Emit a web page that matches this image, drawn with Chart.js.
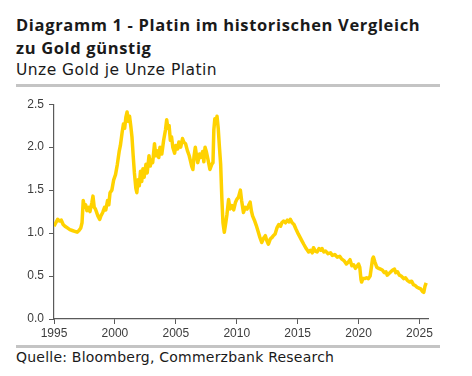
<!DOCTYPE html>
<html>
<head>
<meta charset="utf-8">
<script src="https://cdn.jsdelivr.net/npm/chart.js@4"></script>
<style>
  html, body { margin: 0; padding: 0; background: #fff; }
  body { width: 472px; height: 376px; position: relative; overflow: hidden; font-family: "Open Sans", "DejaVu Sans", sans-serif; color: #1a1a1a; }
  .title { position: absolute; left: 16px; top: 13px; font-size: 16.5px; font-weight: 700; line-height: 23px; letter-spacing: 0.65px; }
  .subtitle { position: absolute; left: 16px; top: 61px; font-family: "DejaVu Sans", sans-serif; font-size: 15.5px; line-height: 18px; letter-spacing: 0.45px; }
  .rule { position: absolute; left: 16px; width: 424px; height: 3px; background: #c4c4c4; }
  .source { position: absolute; left: 16px; top: 349px; font-family: "DejaVu Sans", sans-serif; font-size: 14px; line-height: 17px; letter-spacing: 0.22px; }
  .wrap { position: absolute; left: 0; top: 92px; width: 472px; height: 250px; }
</style>
</head>
<body>
<div class="title">Diagramm 1 - Platin im historischen Vergleich<br>zu Gold günstig</div>
<div class="subtitle">Unze Gold je Unze Platin</div>
<div class="rule" style="top:84px"></div>
<div class="wrap"><canvas id="chart"></canvas></div>
<div class="rule" style="top:345px"></div>
<div class="source">Quelle: Bloomberg, Commerzbank Research</div>
<script>
// gold/platinum ratio
const years = [
  1995.00, 1995.15, 1995.30, 1995.45, 1995.60, 1995.75, 1995.90, 1996.10, 1996.30, 1996.50,
  1996.70, 1996.90, 1997.05, 1997.20, 1997.30, 1997.40, 1997.50, 1997.60, 1997.70, 1997.85,
  1997.95, 1998.10, 1998.20, 1998.30, 1998.40, 1998.50, 1998.60, 1998.75, 1998.85, 1999.00,
  1999.15, 1999.25, 1999.40, 1999.50, 1999.60, 1999.75, 1999.90, 2000.05, 2000.20, 2000.35,
  2000.45, 2000.60, 2000.70, 2000.80, 2000.90, 2001.00, 2001.10, 2001.20, 2001.30, 2001.40,
  2001.50, 2001.60, 2001.72, 2001.80, 2001.90, 2002.00, 2002.10, 2002.20, 2002.30, 2002.40,
  2002.55, 2002.65, 2002.80, 2002.90, 2003.00, 2003.10, 2003.25, 2003.35, 2003.45, 2003.60,
  2003.70, 2003.85, 2004.00, 2004.15, 2004.25, 2004.35, 2004.45, 2004.55, 2004.65, 2004.75,
  2004.90, 2005.00, 2005.15, 2005.25, 2005.40, 2005.55, 2005.65, 2005.80, 2005.95, 2006.10,
  2006.20, 2006.30, 2006.40, 2006.50, 2006.60, 2006.70, 2006.80, 2006.95, 2007.05, 2007.20,
  2007.30, 2007.40, 2007.50, 2007.65, 2007.80, 2007.95, 2008.05, 2008.12, 2008.20, 2008.30,
  2008.38, 2008.48, 2008.58, 2008.68, 2008.78, 2008.87, 2008.98, 2009.08, 2009.20, 2009.33,
  2009.45, 2009.60, 2009.75, 2009.90, 2010.00, 2010.15, 2010.30, 2010.40, 2010.55, 2010.70,
  2010.85, 2011.00, 2011.10, 2011.20, 2011.30, 2011.45, 2011.60, 2011.75, 2011.90, 2012.05,
  2012.20, 2012.35, 2012.45, 2012.60, 2012.75, 2012.90, 2013.00, 2013.15, 2013.30, 2013.45,
  2013.60, 2013.70, 2013.85, 2014.00, 2014.15, 2014.30, 2014.40, 2014.55, 2014.70, 2014.85,
  2015.05, 2015.20, 2015.35, 2015.50, 2015.70, 2015.90, 2016.05, 2016.20, 2016.30, 2016.45,
  2016.60, 2016.75, 2016.90, 2017.00, 2017.15, 2017.30, 2017.50, 2017.70, 2017.85, 2018.05,
  2018.25, 2018.45, 2018.60, 2018.80, 2019.00, 2019.15, 2019.30, 2019.45, 2019.60, 2019.75,
  2019.90, 2020.00, 2020.10, 2020.20, 2020.25, 2020.35, 2020.50, 2020.65, 2020.80, 2020.95,
  2021.05, 2021.15, 2021.22, 2021.35, 2021.50, 2021.65, 2021.80, 2021.95, 2022.10, 2022.25,
  2022.35, 2022.50, 2022.65, 2022.80, 2022.95, 2023.05, 2023.20, 2023.35, 2023.50, 2023.70,
  2023.85, 2024.00, 2024.20, 2024.35, 2024.50, 2024.65, 2024.80, 2024.95, 2025.10, 2025.25,
  2025.35, 2025.45, 2025.55
]
const ratios = [
  1.08, 1.12, 1.16, 1.14, 1.15, 1.10, 1.08, 1.06, 1.04, 1.03,
  1.02, 1.01, 1.03, 1.06, 1.12, 1.38, 1.30, 1.33, 1.26, 1.30,
  1.25, 1.35, 1.43, 1.30, 1.28, 1.24, 1.20, 1.16, 1.20, 1.24,
  1.30, 1.27, 1.38, 1.33, 1.47, 1.50, 1.62, 1.68, 1.80, 1.95,
  2.02, 2.18, 2.27, 2.22, 2.35, 2.41, 2.30, 2.36, 2.25, 2.12,
  1.90, 1.70, 1.52, 1.47, 1.62, 1.55, 1.72, 1.60, 1.75, 1.65,
  1.80, 1.70, 1.90, 1.78, 1.85, 1.82, 2.04, 1.90, 1.96, 1.88,
  2.00, 1.92, 2.08, 2.20, 2.32, 2.22, 2.25, 2.08, 2.12, 2.00,
  1.93, 2.02, 1.98, 2.06, 2.00, 2.10, 2.06, 2.04, 1.96, 1.90,
  1.84, 1.78, 1.74, 1.90, 2.00, 1.90, 1.82, 1.92, 1.88, 1.95,
  1.83, 2.00, 1.95, 1.85, 1.74, 1.80, 1.82, 2.20, 2.33, 2.30,
  2.36, 2.22, 2.00, 1.80, 1.40, 1.12, 1.01, 1.10, 1.22, 1.39,
  1.28, 1.32, 1.27, 1.36, 1.39, 1.42, 1.50, 1.38, 1.24, 1.30,
  1.28, 1.33, 1.36, 1.26, 1.20, 1.15, 1.09, 1.02, 0.95, 0.89,
  0.94, 0.97, 0.92, 0.87, 0.93, 0.95, 0.97, 0.99, 1.06, 1.10,
  1.08, 1.12, 1.14, 1.12, 1.15, 1.13, 1.16, 1.12, 1.10, 1.05,
  0.99, 0.95, 0.91, 0.87, 0.82, 0.78, 0.80, 0.77, 0.83, 0.79,
  0.78, 0.82, 0.80, 0.82, 0.78, 0.79, 0.76, 0.77, 0.74, 0.75,
  0.72, 0.73, 0.70, 0.68, 0.64, 0.66, 0.69, 0.62, 0.63, 0.59,
  0.62, 0.64, 0.60, 0.46, 0.43, 0.47, 0.47, 0.48, 0.47, 0.50,
  0.60, 0.70, 0.72, 0.66, 0.60, 0.59, 0.58, 0.57, 0.54, 0.55,
  0.51, 0.53, 0.55, 0.57, 0.58, 0.54, 0.55, 0.51, 0.50, 0.47,
  0.48, 0.45, 0.43, 0.44, 0.40, 0.39, 0.37, 0.36, 0.35, 0.32,
  0.31, 0.38, 0.42
]
const yTicks = [0, 0.5, 1, 1.5, 2, 2.5]
const xTicks = [1995, 2000, 2005, 2010, 2015, 2020, 2025]

const axisColor = "#5a5a5a"
const labelColor = "#3c3c3c"
const lineColor = "#FFD200"

const ctx = document.getElementById("chart").getContext("2d")
new Chart(ctx, {
  type: "line",
  data: {
    datasets: [
      {
        label: "Unze Gold je Unze Platin",
        data: years.map((y, i) => ({ x: y, y: ratios[i] })),
        borderColor: lineColor,
        backgroundColor: lineColor,
        borderWidth: 3.5,
        pointRadius: 0,
        tension: 0,
        borderJoinStyle: "round",
      },
    ],
  },
  options: {
    responsive: true,
    maintainAspectRatio: false,
    animation: false,
    layout: { padding: { top: 10, right: 44, left: 0, bottom: 0 } },
    plugins: {
      legend: { display: false },
      tooltip: { enabled: false },
    },
    scales: {
      x: {
        type: "linear",
        min: 1995,
        max: 2025.7,
        grid: { drawOnChartArea: false, color: axisColor, tickLength: 5 },
        border: { color: axisColor, width: 1.2 },
        afterBuildTicks: (scale) => {
          scale.ticks = xTicks.map((v) => ({ value: v }))
        },
        afterFit: (scale) => {
          scale.height = 23
        },
        ticks: {
          color: labelColor,
          font: { family: "Liberation Sans, Arial", size: 12 },
          padding: 2,
          maxRotation: 0,
          callback: (v) => String(v),
        },
      },
      y: {
        min: 0,
        max: 2.5,
        grid: { drawOnChartArea: false, color: axisColor, tickLength: 5 },
        border: { color: axisColor, width: 1.2 },
        afterBuildTicks: (scale) => {
          scale.ticks = yTicks.map((v) => ({ value: v }))
        },
        afterFit: (scale) => {
          scale.width = 54
        },
        ticks: {
          color: labelColor,
          font: { family: "Liberation Sans, Arial", size: 12 },
          padding: 5,
          callback: (v) => v.toFixed(1),
        },
      },
    },
  },
})
</script>
</body>
</html>
